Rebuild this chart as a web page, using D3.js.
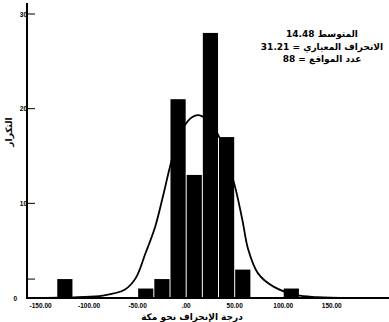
<!DOCTYPE html>
<html>
<head>
<meta charset="utf-8">
<script src="https://cdn.jsdelivr.net/npm/d3@7"></script>
<style>
  body { margin: 0; background: #fff; }
  svg { display: block; }
  .tick-label { font-family: "Liberation Sans", Arial, sans-serif; font-weight: bold; font-size: 6.5px; fill: #000; }
  .ar { font-family: "DejaVu Sans", sans-serif; font-weight: bold; fill: #000; }
</style>
</head>
<body>
<div id="chart"></div>
<script>
// histogram bins (left edge, width in degrees) and counts
const binStarts = [-133.33, -50, -33.33, -16.67, 0, 16.67, 33.33, 50, 100];
const binWidth = 16.67;
const counts = [2, 1, 2, 21, 13, 28, 17, 3, 1];

// normal curve
const curveX = [-160, -112, -86, -63, -52, -42, -32, -24, -14, -4, 6, 14, 24, 35, 44, 51, 58, 64, 74, 90, 114, 135, 170, 209];
const curveY = [0, 0.1, 0.25, 0.9, 2.1, 4.7, 7.5, 10.7, 14.9, 17.8, 19.1, 19.3, 18.6, 16.8, 14, 11.5, 8.2, 5.1, 2.6, 1.2, 0.3, 0.1, 0, 0];

const xTicks = [-150, -100, -50, 0, 50, 100, 150];
const xTickLabels = ["-150.00", "-100.00", "-50.00", ".00", "50.00", "100.00", "150.00"];
const yTicks = [0, 10, 20, 30];
const yMinorTicks = [2];

const statLines = ["المتوسط 14.48", "الانحراف المعياري = 31.21", "عدد المواقع = 88"];
const xTitle = "درجة الإنحراف نحو مكة";
const yTitle = "التكرار";

const width = 389, height = 322;

const svg = d3.select("#chart").append("svg")
  .attr("width", width)
  .attr("height", height);

const x = d3.scaleLinear().domain([-164, 209]).range([27, 389]);
const y = d3.scaleLinear().domain([0, 30]).range([298, 14]);

// bars
svg.append("g")
  .selectAll("rect")
  .data(binStarts)
  .enter().append("rect")
  .attr("x", d => x(d) + 0.5)
  .attr("width", d => x(d + binWidth) - x(d) - 1)
  .attr("y", (d, i) => y(counts[i]))
  .attr("height", (d, i) => y(0) - y(counts[i]))
  .attr("fill", "#000");

// fitted curve
const line = d3.line()
  .x(d => x(d[0]))
  .y(d => y(d[1]))
  .curve(d3.curveCatmullRom);

svg.append("path")
  .datum(curveX.map((v, i) => [v, curveY[i]]))
  .attr("d", line)
  .attr("fill", "none")
  .attr("stroke", "#000")
  .attr("stroke-width", 1.8);

// axes lines
svg.append("line")
  .attr("x1", x.range()[0]).attr("x2", width)
  .attr("y1", y(0)).attr("y2", y(0))
  .attr("stroke", "#000").attr("stroke-width", 2);

svg.append("line")
  .attr("x1", 27).attr("x2", 27)
  .attr("y1", y(0) + 1).attr("y2", 3)
  .attr("stroke", "#000").attr("stroke-width", 2);

// y ticks (inside)
svg.append("g")
  .selectAll("line")
  .data(yTicks.slice(1).concat(yMinorTicks))
  .enter().append("line")
  .attr("x1", 27).attr("x2", 35)
  .attr("y1", d => y(d)).attr("y2", d => y(d))
  .attr("stroke", "#000").attr("stroke-width", 1);

svg.append("g")
  .selectAll("text")
  .data(yTicks)
  .enter().append("text")
  .attr("class", "tick-label")
  .attr("x", d => d === 0 ? 17 : 27)
  .attr("y", d => y(d) + 2.5)
  .attr("text-anchor", "end")
  .text(d => d);

// x tick labels
svg.append("g")
  .selectAll("text")
  .data(xTicks)
  .enter().append("text")
  .attr("class", "tick-label")
  .attr("x", d => x(d))
  .attr("y", 308)
  .attr("text-anchor", "middle")
  .text((d, i) => xTickLabels[i]);

// titles
svg.append("text")
  .attr("class", "ar")
  .attr("x", 192)
  .attr("y", 320)
  .attr("text-anchor", "middle")
  .attr("direction", "rtl")
  .style("font-size", "9px")
  .text(xTitle);

svg.append("text")
  .attr("class", "ar")
  .attr("transform", "translate(12,132) rotate(-90)")
  .attr("text-anchor", "middle")
  .attr("direction", "rtl")
  .style("font-size", "9px")
  .text(yTitle);

// stats box
svg.append("g")
  .selectAll("text")
  .data(statLines)
  .enter().append("text")
  .attr("class", "ar")
  .attr("x", 322)
  .attr("y", (d, i) => 37 + i * 12.5)
  .attr("text-anchor", "middle")
  .attr("direction", "rtl")
  .style("font-size", "9px")
  .text(d => d);
</script>
</body>
</html>
